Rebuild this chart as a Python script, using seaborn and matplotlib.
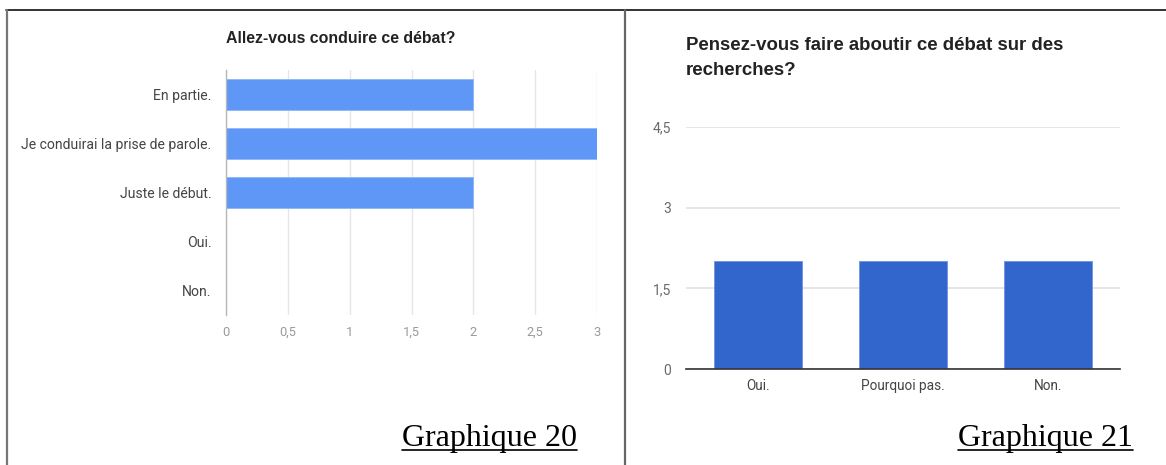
import matplotlib
matplotlib.use("Agg")
import matplotlib.pyplot as plt
import seaborn as sns
import pandas as pd
from matplotlib.lines import Line2D
from matplotlib.ticker import FuncFormatter

# ---- data ----
left_categories = ["En partie.", "Je conduirai la prise de parole.", "Juste le début.", "Oui.", "Non."]
left_values = [2, 3, 2, 0, 0]
left_title = "Allez-vous conduire ce débat?"
left_xticks = [0, 0.5, 1, 1.5, 2, 2.5, 3]

right_categories = ["Oui.", "Pourquoi pas.", "Non."]
right_values = [2, 2, 2]
right_title = "Pensez-vous faire aboutir ce débat sur des\nrecherches?"
right_yticks = [0, 1.5, 3, 4.5]

captions = ["Graphique 20", "Graphique 21"]

sns.set_theme(style="white")
plt.rcParams['font.family'] = ['Roboto', 'DejaVu Sans']

W, H = 1166, 465
fig = plt.figure(figsize=(W / 100, H / 100), dpi=100)

def fx(px):
    return px / W

def fy(py):
    return 1 - py / H

def comma(v, pos):
    return ("%g" % v).replace(".", ",")

# ---- left chart ----
axL = fig.add_axes([fx(226), fy(315), fx(597) - fx(226), fy(70) - fy(315)])
dfL = pd.DataFrame({"cat": left_categories, "val": left_values})
sns.barplot(data=dfL, x="val", y="cat", order=left_categories, orient="h",
            color="#5E97F6", saturation=1, width=0.63, ax=axL, zorder=3,
            edgecolor="#8fb6f8", linewidth=0.6)
axL.set_xlim(0, 3)
axL.set_ylim(4.5, -0.5)
axL.set_xticks(left_xticks)
axL.xaxis.set_major_formatter(FuncFormatter(comma))
axL.grid(axis="x", color="#e6e6e6", linewidth=1, zorder=0)
axL.grid(axis="y", visible=False)
for s in ["top", "right", "bottom"]:
    axL.spines[s].set_visible(False)
axL.spines["left"].set_color("#b8b8b8")
axL.spines["left"].set_linewidth(1)
axL.spines["left"].set_zorder(4)
axL.tick_params(axis="x", length=0, pad=8, labelsize=9.3, labelcolor="#9a9a9a")
axL.tick_params(axis="y", length=0, pad=10.5, labelsize=10.1, labelcolor="#444444")
axL.set_xlabel("")
axL.set_ylabel("")
fig.text(fx(226), fy(38.5), left_title, fontsize=11.4, fontweight="bold",
         family=["Liberation Sans", "DejaVu Sans"], color="#222222", va="center", ha="left")

# ---- right chart ----
axR = fig.add_axes([fx(686), fy(369), fx(1120) - fx(686), fy(127) - fy(369)])
dfR = pd.DataFrame({"cat": right_categories, "val": right_values})
sns.barplot(data=dfR, x="cat", y="val", order=right_categories,
            color="#3366CC", saturation=1, width=0.61, ax=axR, zorder=3,
            edgecolor="#6f93dd", linewidth=0.6)
axR.set_ylim(0, 4.5)
axR.set_xlim(-0.5, 2.5)
axR.set_yticks(right_yticks)
axR.yaxis.set_major_formatter(FuncFormatter(comma))
axR.grid(axis="y", color="#e0e0e0", linewidth=1.2, zorder=0)
axR.grid(axis="x", visible=False)
for s in ["top", "right", "left"]:
    axR.spines[s].set_visible(False)
axR.spines["bottom"].set_color("#333333")
axR.spines["bottom"].set_linewidth(1.2)
axR.spines["bottom"].set_zorder(4)
axR.tick_params(axis="y", length=0, pad=10.5, labelsize=10, labelcolor="#6a6a6a")
axR.tick_params(axis="x", length=0, pad=7, labelsize=9.8, labelcolor="#444444")
axR.set_xlabel("")
axR.set_ylabel("")
fig.text(fx(686), fy(58), right_title, fontsize=13.4, fontweight="bold",
         family=["Liberation Sans", "DejaVu Sans"], color="#222222", va="center", ha="left",
         linespacing=1.6)

# ---- captions ----
for cap, xr in zip(captions, [577, 1133]):
    fig.text(fx(xr), fy(446), cap, fontsize=23, family=["Liberation Serif", "DejaVu Serif"],
             color="#000000", ha="right", va="baseline")
fig.canvas.draw()
renderer = fig.canvas.get_renderer()
for t in fig.texts[-2:]:
    bb = t.get_window_extent(renderer)
    fig.add_artist(Line2D([bb.x0 / W, bb.x1 / W], [fy(450), fy(450)],
                          color="black", linewidth=1.2, transform=fig.transFigure))

# ---- borders ----
fig.add_artist(Line2D([fx(6), 1], [fy(10.5), fy(10.5)], color="#111111", linewidth=1.2,
                      transform=fig.transFigure))
fig.add_artist(Line2D([fx(6.5), fx(6.5)], [fy(10.5), 0], color="#777777", linewidth=1.6,
                      transform=fig.transFigure))
fig.add_artist(Line2D([fx(625), fx(625)], [fy(10.5), 0], color="#666666", linewidth=1.6,
                      transform=fig.transFigure))

fig.savefig("out.png", dpi=100)
